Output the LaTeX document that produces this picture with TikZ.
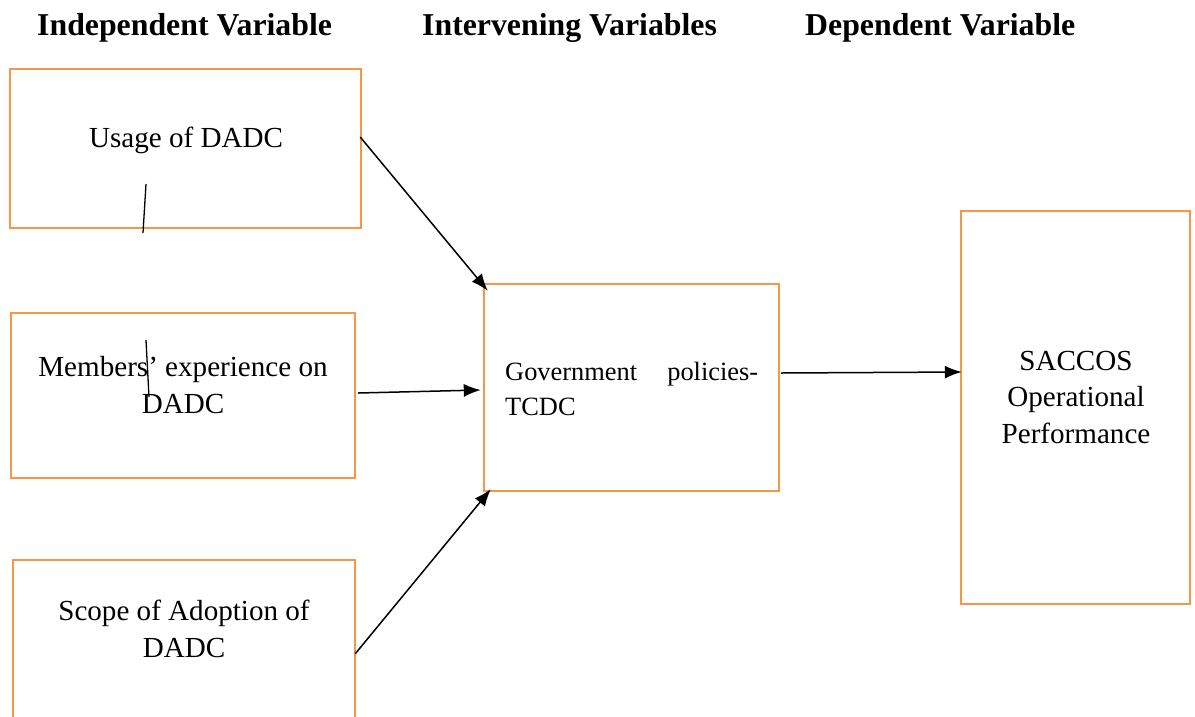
\documentclass[tikz,border=0pt]{standalone}
\usepackage{fontspec}
\setmainfont{Liberation Serif}
\usetikzlibrary{arrows.meta, calc, positioning}
\definecolor{boxOrange}{HTML}{F79646}
\tikzset{
    varBox/.style={rectangle, draw=boxOrange, line width=2.4pt, inner sep=0pt},
    varText/.style={inner sep=0pt, align=center, font=\fontsize{29.1}{36.5}\selectfont},
    headText/.style={inner sep=0pt, anchor=base west, font=\fontsize{31.8}{38}\selectfont\bfseries},
    varEdge/.style={-{Latex[length=17pt, width=13pt]}, line width=1.5pt},
    strayLine/.style={line width=1.3pt},
}
\newcommand{\drawVarLink}[2]{
    \draw[varEdge] (#1) -- (#2);
}
\begin{document}
\begin{tikzpicture}[x=1pt, y=-1pt]

        \clip (0,0) rectangle (1195,716);

        % headings
        \node[headText] (hIndep) at (37,35) {Independent Variable};
        \node[headText] (hInterv) at (422,35) {Intervening Variables};
        \node[headText] (hDep) at (805,35) {Dependent Variable};

        % boxes
        \node[varBox, minimum width=351pt, minimum height=159pt] (usage) at (185.5,148.5) {};
        \node[varBox, minimum width=344pt, minimum height=165pt] (members) at (183,395.5) {};
        \node[varBox, minimum width=342pt, minimum height=200pt] (scope) at (184,660) {};
        \node[varBox, minimum width=295pt, minimum height=207pt] (govt) at (631.5,387.5) {};
        \node[varBox, minimum width=229pt, minimum height=393pt] (saccos) at (1075.5,407.5) {};

        % box texts (base = last line)
        \node[varText, anchor=base] (usageTxt) at (186,147) {Usage of DADC};
        \node[varText, anchor=base] (membersTxt) at (183,413) {Members’ experience on\\DADC};
        \node[varText, anchor=base] (scopeTxt) at (184,657) {Scope of Adoption of\\DADC};
        \node[varText, anchor=base] (saccosTxt) at (1076,443) {SACCOS\\Operational\\Performance};
        \node[inner sep=0pt, anchor=base west, text width=253pt, align=left,
              font=\fontsize{26.4}{35}\selectfont] (govtTxt) at (505,380) {Government\hfill policies-\\TCDC};

        % stray marks
        \coordinate (markA1) at (146,184);
        \coordinate (markA2) at (143,233);
        \coordinate (markB1) at (146,340);
        \coordinate (markB2) at (149,397);
        \draw[strayLine] (markA1) -- (markA2);
        \draw[strayLine] (markB1) -- (markB2);

        % links
        \coordinate (uOut) at ($(usage.east)+(-2,-11.5)$);
        \coordinate (mOut) at ($(members.east)+(2,-2.5)$);
        \coordinate (sOut) at ($(scope.north east)+(-1,95)$);
        \coordinate (gOut) at ($(govt.east)+(1,-14.5)$);
        \coordinate (gInTop) at ($(govt.north west)+(5,8)$);
        \coordinate (gInMid) at ($(govt.west)+(-2,2.5)$);
        \coordinate (gInBot) at ($(govt.south west)+(8,-3)$);
        \coordinate (dIn) at ($(saccos.west)+(2,-35.5)$);

        \drawVarLink{uOut}{gInTop}
        \drawVarLink{mOut}{gInMid}
        \drawVarLink{sOut}{gInBot}
        \drawVarLink{gOut}{dIn}

    \end{tikzpicture}
\end{document}
